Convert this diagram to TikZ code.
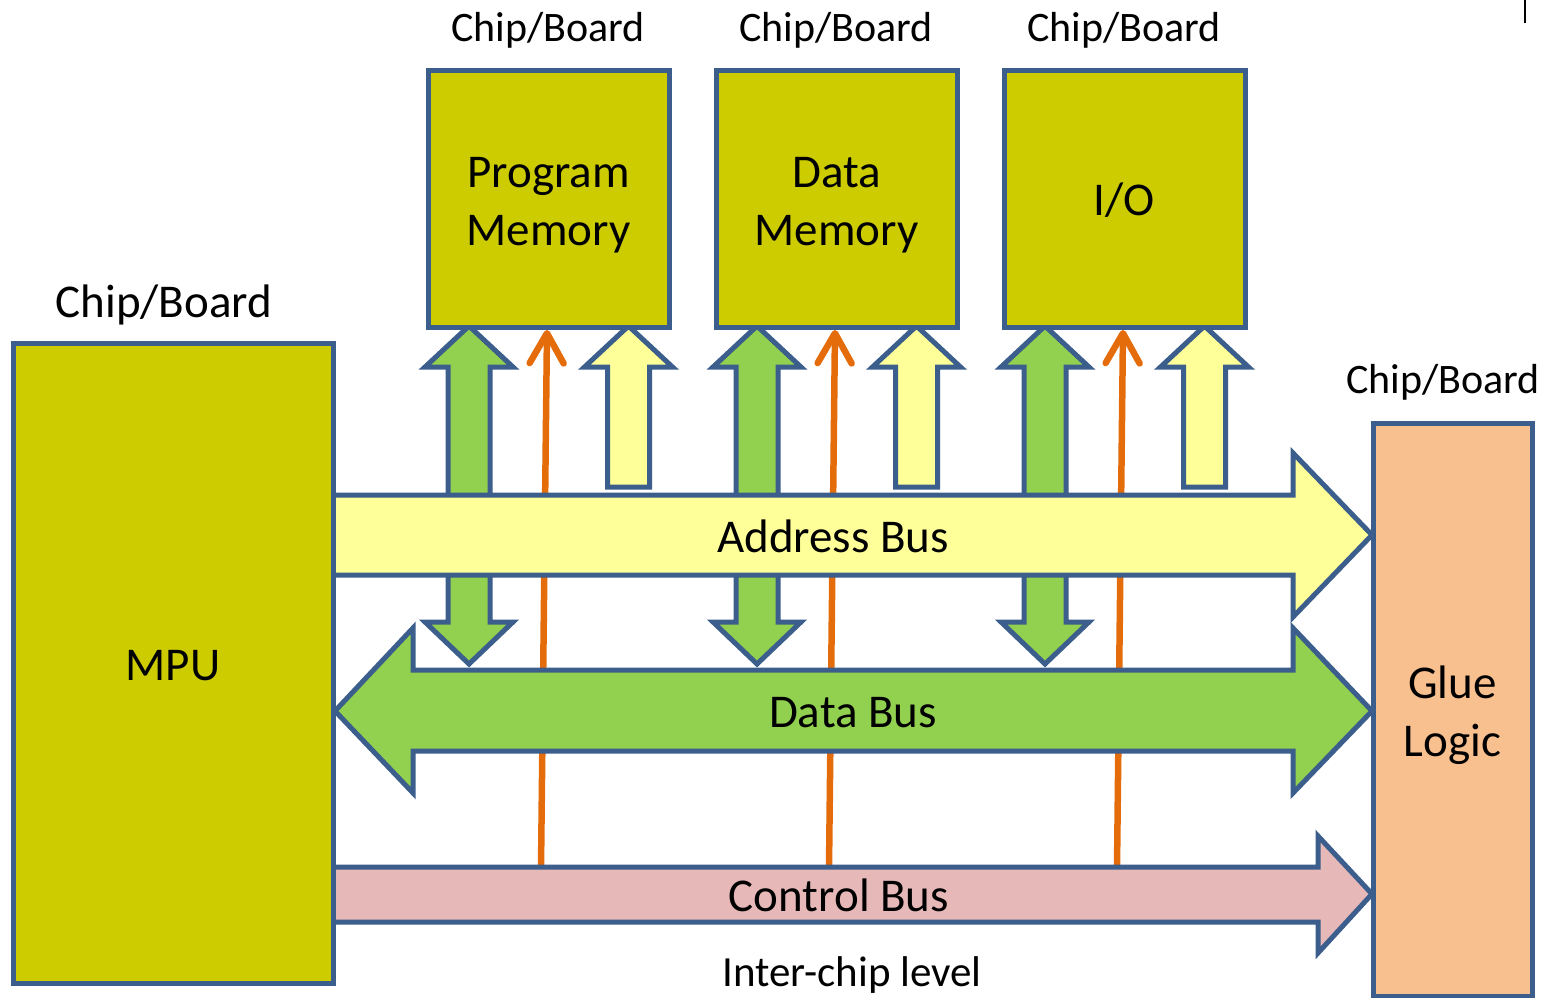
\documentclass[tikz,border=0pt]{standalone}
\usepackage{fontspec}
\setmainfont{Carlito}
\usetikzlibrary{arrows.meta}
\definecolor{edgeblue}{HTML}{3B5E8C}
\definecolor{chipfill}{HTML}{CCCC00}
\definecolor{gluefill}{HTML}{F9C08F}
\definecolor{addrfill}{HTML}{FFFF99}
\definecolor{datafill}{HTML}{92D050}
\definecolor{ctrlfill}{HTML}{E6B9B8}
\definecolor{sigline}{HTML}{E46C0A}

\begin{document}
\begin{tikzpicture}[x=1pt,y=-1pt,
  outline/.style={draw=edgeblue,line width=5pt,line join=miter},
  chipbox/.style={outline,fill=chipfill,rectangle,inner sep=0pt,
    minimum width=241pt,minimum height=256pt},
  boxtext/.style={align=center,inner sep=0pt,font=\fontsize{47}{58}\selectfont},
  buslabel/.style={font=\fontsize{47}{58}\selectfont,inner sep=0pt,anchor=base},
  chiplabel/.style={font=\fontsize{42}{50}\selectfont,inner sep=0pt,anchor=base},
  ctlwire/.style={draw=sigline,line width=6.5pt,line cap=round,
    -{Straight Barb[length=30pt,width=34pt,line cap=round,line join=round]}},
]
\useasboundingbox (0,0) rectangle (1548,998);

% control wires from the control bus up to each chip
\foreach \k/\dx in {pm/0,dm/288,io/576}{
  \coordinate (\k-ctl-low) at ({541+\dx},868);
  \coordinate (\k-ctl-high) at ({547+\dx},330);
  \draw[ctlwire] (\k-ctl-low) -- (\k-ctl-high);
}

% data bus taps (two-way) and address bus taps (one-way)
\foreach \dx in {0,288,576}{
  \pgfmathsetmacro{\g}{469+\dx}
  \draw[outline,fill=datafill]
    ({\g-21},367) -- ({\g-44},367) -- (\g,326) -- ({\g+44},367) -- ({\g+21},367)
    -- ({\g+21},622) -- ({\g+44},622) -- (\g,664) -- ({\g-44},622) -- ({\g-21},622) -- cycle;
  \pgfmathsetmacro{\a}{628.5+\dx}
  \draw[outline,fill=addrfill]
    ({\a-21},487) -- ({\a-21},367) -- ({\a-44},367) -- (\a,326) -- ({\a+44},367)
    -- ({\a+21},367) -- ({\a+21},487) -- cycle;
}

% address bus
\draw[outline,fill=addrfill]
  (333,495) -- (1293,495) -- (1293,453) -- (1372,535) -- (1293,617) -- (1293,575) -- (333,575) -- cycle;
\node[buslabel] (addrlbl) at (833,552) {Address Bus};

% data bus
\draw[outline,fill=datafill]
  (335,711) -- (413,628) -- (413,670) -- (1293,670) -- (1293,628) -- (1372,711)
  -- (1293,793) -- (1293,751) -- (413,751) -- (413,793) -- cycle;
\node[buslabel] (datalbl) at (853,727) {Data Bus};

% control bus
\draw[outline,fill=ctrlfill]
  (333,867) -- (1318,867) -- (1318,836) -- (1372,894) -- (1318,953) -- (1318,922) -- (333,922) -- cycle;
\node[buslabel] (ctrllbl) at (839,911) {Control Bus};

% processor and glue logic
\node[chipbox,minimum width=320pt,minimum height=640pt] (mpu) at (173,663) {};
\node[boxtext] (mputxt) at (173,666) {MPU};
\node[chipbox,fill=gluefill,minimum width=159pt,minimum height=573pt] (glue) at (1452.5,709.5) {};
\node[boxtext] (gluetxt) at (1452.5,715) {Glue\\Logic};

% memory and I/O chips
\node[chipbox] (pm) at (548.5,199) {};
\node[boxtext] (pmtxt) at (548.5,205) {Program\\Memory};
\node[chipbox] (dm) at (836.5,199) {};
\node[boxtext] (dmtxt) at (836.5,205) {Data\\Memory};
\node[chipbox] (io) at (1124.5,199) {};
\node[boxtext] (iotxt) at (1124.5,200) {I/O};

% chip/board captions
\node[chiplabel] (pmcap) at (548,42) {Chip/Board};
\node[chiplabel] (dmcap) at (836,42) {Chip/Board};
\node[chiplabel] (iocap) at (1124,42) {Chip/Board};
\node[chiplabel,font=\fontsize{47}{54}\selectfont] (mpucap) at (164,317) {Chip/Board};
\node[chiplabel] (gluecap) at (1443,393) {Chip/Board};
\node[chiplabel,font=\fontsize{43}{50}\selectfont] (levellbl) at (852,986) {Inter-chip level};

% stray tick in the top corner
\draw[line width=2pt] (1525,0) -- (1525,23);
\end{tikzpicture}
\end{document}
